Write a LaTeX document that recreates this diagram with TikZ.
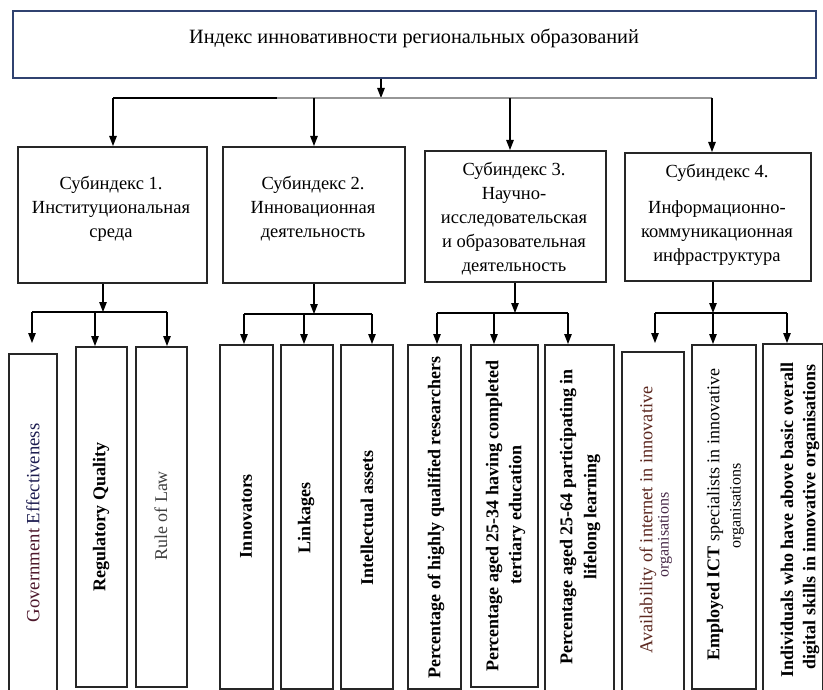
\documentclass[tikz,border=0pt]{standalone}
\usepackage{fontspec}
\setmainfont{Liberation Serif}
\usetikzlibrary{arrows.meta}
\definecolor{topblue}{RGB}{48,66,112}
\definecolor{busgrey}{RGB}{150,150,150}
\definecolor{maroonish}{RGB}{78,24,44}
\definecolor{navyish}{RGB}{28,28,80}
\definecolor{brownish}{RGB}{92,40,32}
\definecolor{orgcol}{RGB}{70,40,70}
\begin{document}
\begin{tikzpicture}[x=1pt,y=-1pt,
  box/.style={draw=black!85, line width=1.6pt, inner sep=0pt, anchor=north west},
  arr/.style={-{Triangle[length=10pt,width=7.5pt]}, line width=1.1pt},
  bus/.style={line width=1.1pt},
  subtxt/.style={font=\fontsize{18.5}{24}\selectfont, align=center, inner sep=0pt},
  leaf/.style={rotate=90, font=\fontsize{18}{23}\selectfont, inner sep=0pt, anchor=center},
  leafsm/.style={rotate=90, font=\fontsize{16}{20}\selectfont, inner sep=0pt, anchor=center}
]
\useasboundingbox (0,0) rectangle (823,690);
\clip (0,0) rectangle (823,690);

% top box
\node[draw=topblue, line width=1.6pt, inner sep=0pt, anchor=north west,
      minimum width=803pt, minimum height=67pt] (top) at (12,10) {};
\node[font=\fontsize{20.3}{24}\selectfont, inner sep=0pt] (title) at (414,38)
  {Индекс инновативности региональных образований};

% sub-index boxes
\node[box, minimum width=189pt, minimum height=136pt] (s1) at (17,146) {};
\node[box, minimum width=182pt, minimum height=136pt] (s2) at (222,146) {};
\node[box, minimum width=181pt, minimum height=131pt] (s3) at (424,150) {};
\node[box, minimum width=186pt, minimum height=128pt] (s4) at (624,152) {};

\node[subtxt] (t1) at (111,209) {Субиндекс 1.\\Институциональная\\среда};
\node[subtxt] (t2) at (313,209) {Субиндекс 2.\\Инновационная\\деятельность};
\node[subtxt] (t3) at (514,219) {Субиндекс 3.\\Научно-\\исследовательская\\и образовательная\\деятельность};
\node[subtxt] (t4) at (717,215) {Субиндекс 4.\\[12pt]Информационно-\\коммуникационная\\инфраструктура};

% top bus
\coordinate (tb) at (381,98);
\coordinate (tbA) at (113,98);
\coordinate (tbB) at (314,98);
\coordinate (tbM) at (277,98);
\coordinate (tbC) at (510,98);
\coordinate (tbD) at (712,98);
\draw[arr] (top.south -| tb) -- (tb);
\draw[bus] (tbA) -- (tbM);
\draw[bus, busgrey] (tbM) -- (tbD);
\draw[arr] (tbA) -- (tbA |- s1.north);
\draw[arr] (tbB) -- (tbB |- s2.north);
\draw[arr] (tbC) -- (tbC |- s3.north);
\draw[arr] (tbD) -- (tbD |- s4.north);

% leaf boxes
\node[box, minimum width=48pt, minimum height=350pt] (ge) at (8,353) {};
\node[box, minimum width=51pt, minimum height=340pt] (rq) at (75,346) {};
\node[box, minimum width=51pt, minimum height=340pt] (rl) at (135,346) {};
\node[box, minimum width=53pt, minimum height=344pt] (in) at (219,344) {};
\node[box, minimum width=52pt, minimum height=344pt] (lk) at (280,344) {};
\node[box, minimum width=52pt, minimum height=344pt] (ia) at (340,344) {};
\node[box, minimum width=53pt, minimum height=344pt] (p1) at (407,344) {};
\node[box, minimum width=67pt, minimum height=342pt] (p2) at (470,344) {};
\node[box, minimum width=69pt, minimum height=360pt] (p3) at (544,344) {};
\node[box, minimum width=62pt, minimum height=350pt] (a1) at (621,351) {};
\node[box, minimum width=64pt, minimum height=344pt] (a2) at (691,344) {};
\node[box, minimum width=60pt, minimum height=360pt] (a3) at (762,343) {};

% leaf texts
\node[leaf, font=\fontsize{18.7}{23}\selectfont] (gel) at (33,523) {\textcolor{maroonish}{Government} \textcolor{navyish}{Effectiveness}};
\node[leaf, font=\fontsize{18}{23}\selectfont\bfseries] (rql) at (101,517) {Regulatory Quality};
\node[leaf, text=black!75] (rll) at (161,516) {Rule of Law};
\node[leaf, font=\fontsize{18}{23}\selectfont\bfseries] (inl) at (246,516) {Innovators};
\node[leaf, font=\fontsize{18}{23}\selectfont\bfseries] (lkl) at (306,518) {Linkages};
\node[leaf, font=\fontsize{18}{23}\selectfont\bfseries] (ial) at (367,518) {Intellectual assets};
\node[leaf, font=\fontsize{18}{23}\selectfont\bfseries] (p1l) at (436,518) {Percentage of highly qualified researchers};
\node[leaf, font=\fontsize{18}{23}\selectfont\bfseries] (p2a) at (494,516) {Percentage aged 25-34 having completed};
\node[leaf, font=\fontsize{18}{23}\selectfont\bfseries] (p2b) at (517,515) {tertiary education};
\node[leaf, font=\fontsize{18}{23}\selectfont\bfseries] (p3a) at (568,517) {Percentage aged 25-64 participating in};
\node[leaf, font=\fontsize{18}{23}\selectfont\bfseries] (p3b) at (592,517) {lifelong learning};
\node[leaf, text=brownish, font=\fontsize{18.3}{23}\selectfont] (a1a) at (648,520) {Availability of internet in innovative};
\node[leafsm, text=orgcol] (a1b) at (665,535) {organisations};
\node[leaf] (a2a) at (715,515) {\textbf{Employed ICT} specialists in innovative};
\node[leafsm] (a2b) at (737,506) {organisations};
\node[leaf, font=\fontsize{18}{23}\selectfont\bfseries] (a3a) at (787,520) {Individuals who have above basic overall};
\node[leaf, font=\fontsize{18}{23}\selectfont\bfseries] (a3b) at (811,517) {digital skills in innovative organisations};

% sub-index 1 connectors
\coordinate (b1) at (103,312);
\coordinate (b1l) at (32,312);
\coordinate (b1m) at (95,312);
\coordinate (b1r) at (167,312);
\coordinate (ge-tip) at (32,343);
\draw[arr] (s1.south -| b1) -- (b1);
\draw[bus] (b1l) -- (b1r);
\draw[arr] (b1l) -- (ge-tip);
\draw[arr] (b1m) -- (b1m |- rq.north);
\draw[arr] (b1r) -- (b1r |- rl.north);

% sub-index 2 connectors
\coordinate (b2) at (314,314);
\coordinate (b2l) at (244,314);
\coordinate (b2m) at (304,314);
\coordinate (b2r) at (372,314);
\draw[arr] (s2.south -| b2) -- (b2);
\draw[bus] (b2l) -- (b2r);
\draw[arr] (b2l) -- (b2l |- in.north);
\draw[arr] (b2m) -- (b2m |- lk.north);
\draw[arr] (b2r) -- (b2r |- ia.north);

% sub-index 3 connectors
\coordinate (b3) at (515,313);
\coordinate (b3l) at (437,313);
\coordinate (b3m) at (494,313);
\coordinate (b3r) at (568,313);
\draw[arr] (s3.south -| b3) -- (b3);
\draw[bus] (b3l) -- (b3r);
\draw[arr] (b3l) -- (b3l |- p1.north);
\draw[arr] (b3m) -- (b3m |- p2.north);
\draw[arr] (b3r) -- (b3r |- p3.north);

% sub-index 4 connectors
\coordinate (b4) at (713,313);
\coordinate (b4l) at (655,313);
\coordinate (b4r) at (787,313);
\coordinate (a1-tip) at (655,343);
\draw[arr] (s4.south -| b4) -- (b4);
\draw[bus] (b4l) -- (b4r);
\draw[arr] (b4l) -- (a1-tip);
\draw[arr] (b4) -- (b4 |- a2.north);
\draw[arr] (b4r) -- (b4r |- a3.north);
\end{tikzpicture}
\end{document}
